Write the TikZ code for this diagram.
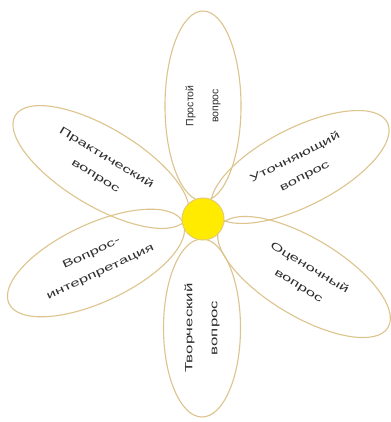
\documentclass[tikz,border=0pt]{standalone}
\usepackage{fontspec}
\setmainfont{Liberation Sans}
\newfontfamily\petalfont{Liberation Sans}
\newfontfamily\petalwide[FakeStretch=1.6]{Liberation Sans}
\usetikzlibrary{shapes.geometric}
\definecolor{petalline}{HTML}{DCC48C}
\definecolor{centerfill}{HTML}{FFEB00}
\definecolor{centerline}{HTML}{E6CB70}
\definecolor{txt}{HTML}{2E2E2E}
\tikzset{
 petal/.style={ellipse, draw=petalline, line width=1.1pt, inner sep=0pt, minimum height=78pt},
 ptext/.style={text=txt, align=center, font=\petalwide\fontsize{10.5}{21}\selectfont},
 core/.style={circle, fill=centerfill, draw=centerline, line width=1pt, minimum size=42pt, inner sep=0pt}
}
\begin{document}
\begin{tikzpicture}[x=1pt,y=-1pt]
\useasboundingbox[fill=white] (0,0) rectangle (390,422);
\node[petal, rotate=90, minimum width=190pt, minimum height=76pt, ptext, font=\petalfont\fontsize{10.5}{25}\selectfont] (simple) at (203,106) {Простой\\вопрос};
\node[petal, rotate=27, minimum width=196pt, ptext] (clarify) at (300,167) {Уточняющий\\вопрос};
\node[petal, rotate=-31, minimum width=196pt, ptext] (assess) at (304,277) {Оценочный\\вопрос};
\node[petal, rotate=90, minimum width=178pt, minimum height=77pt, ptext, font=\petalwide\fontsize{10.5}{25}\selectfont] (creative) at (202,328) {Творческий\\вопрос};
\node[petal, rotate=25, minimum width=192pt, ptext] (interp) at (96,263) {Вопрос-\\интерпретация};
\node[petal, rotate=-31, minimum width=200pt, ptext] (pract) at (101,167) {Практический\\вопрос};
\node[core] (core) at (203,219) {};
\end{tikzpicture}
\end{document}
